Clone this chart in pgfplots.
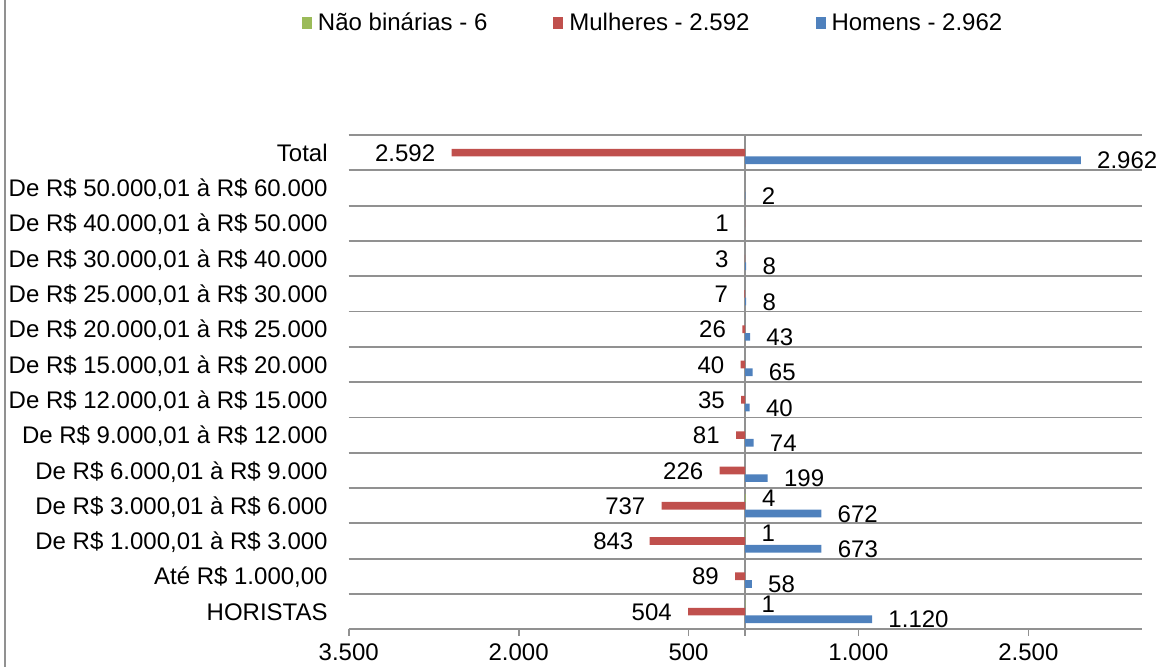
\documentclass[border=0pt]{standalone}
\usepackage{fontspec}
\setmainfont{Liberation Sans}
\usepackage{pgfplots}
\pgfplotsset{compat=1.18}
\definecolor{nbgreen}{HTML}{9BBB59}
\definecolor{mred}{HTML}{C0504D}
\definecolor{hblue}{HTML}{4F81BD}
\definecolor{gridgray}{RGB}{145,145,145}
\begin{document}
\begin{tikzpicture}
\useasboundingbox (0,0) rectangle (580pt,333.5pt);
\draw[gridgray, line width=0.8pt] (2.5pt,0) -- (2.5pt,333.5pt);
\begin{axis}[
  at={(174.35pt,18.85pt)}, anchor=south west,
  scale only axis, width=396.5pt, height=247.15pt,
  xmin=-3500, xmax=3500, ymin=-0.5, ymax=13.5,
  xbar, bar width=3.85pt,
  clip=false,
  axis line style={draw=none},
  xtick={-3500,-2000,-500,1000,2500},
  xticklabels={3.500,2.000,500,1.000,2.500},
  extra x ticks={0}, extra x tick labels={},
  extra x tick style={grid=major, major grid style={gridgray, line width=0.9pt}},
  xtick pos=left, tick align=outside,
  x tick style={gridgray, line width=0.9pt},
  major tick length=3.35pt,
  ytick={0,...,13},
  yticklabels={HORISTAS,{Até R\$ 1.000,00},{De R\$ 1.000,01 à R\$ 3.000},{De R\$ 3.000,01 à R\$ 6.000},{De R\$ 6.000,01 à R\$ 9.000},{De R\$ 9.000,01 à R\$ 12.000},{De R\$ 12.000,01 à R\$ 15.000},{De R\$ 15.000,01 à R\$ 20.000},{De R\$ 20.000,01 à R\$ 25.000},{De R\$ 25.000,01 à R\$ 30.000},{De R\$ 30.000,01 à R\$ 40.000},{De R\$ 40.000,01 à R\$ 50.000},{De R\$ 50.000,01 à R\$ 60.000},Total},
  ytick style={draw=none},
  minor ytick={-0.5,0.5,...,13.5},
  minor tick length=0pt,
  yminorgrids=true,
  minor y grid style={gridgray, line width=0.9pt},
  tick label style={font=\fontsize{12}{14}\selectfont, inner sep=0pt, text height=8.6pt, text depth=0pt},
  yticklabel style={anchor=east, xshift=-7pt},
  xticklabel style={anchor=north, yshift=-3.6pt},
  /pgf/number format/assume math mode=true,
  point meta=explicit symbolic,
  nodes near coords={\pgfplotspointmeta},
  every node near coord/.append style={font=\fontsize{12}{14}\selectfont, inner sep=0pt, text height=8.6pt, text depth=0pt, black},
  legend columns=3,
  legend style={at={(axis description cs:-0.0589,1.2256)}, anchor=west, draw=none, fill=none, inner sep=0pt, outer sep=0pt, font=\fontsize{12}{14}\selectfont, nodes={inner sep=0pt}, /tikz/every odd column/.append style={column sep=3pt}, /tikz/every even column/.append style={column sep=33pt}},
  legend image code/.code={\fill[#1] (0pt,-3pt) rectangle (5pt,3.4pt);},
]
\addplot[fill=nbgreen, draw=none, bar shift=3.85pt, every node near coord/.append style={anchor=west, xshift=8pt}]
  coordinates {(1,0) [1] (1,2) [1] (4,3) [4]};
\addlegendentry{Não binárias - 6}
\addplot[fill=mred, draw=none, bar shift=0pt, every node near coord/.append style={anchor=east, xshift=-8pt}]
  coordinates {(-504,0) [504] (-89,1) [89] (-843,2) [843] (-737,3) [737] (-226,4) [226] (-81,5) [81] (-35,6) [35] (-40,7) [40] (-26,8) [26] (-7,9) [7] (-3,10) [3] (-1,11) [1] (-2592,13) [2.592]};
\addlegendentry{Mulheres - 2.592}
\addplot[fill=hblue, draw=none, bar shift=-3.85pt, every node near coord/.append style={anchor=west, xshift=8pt}]
  coordinates {(1120,0) [1.120] (58,1) [58] (673,2) [673] (672,3) [672] (199,4) [199] (74,5) [74] (40,6) [40] (65,7) [65] (43,8) [43] (8,9) [8] (8,10) [8] (2,12) [2] (2962,13) [2.962]};
\addlegendentry{Homens - 2.962}
\end{axis}
\end{tikzpicture}
\end{document}
